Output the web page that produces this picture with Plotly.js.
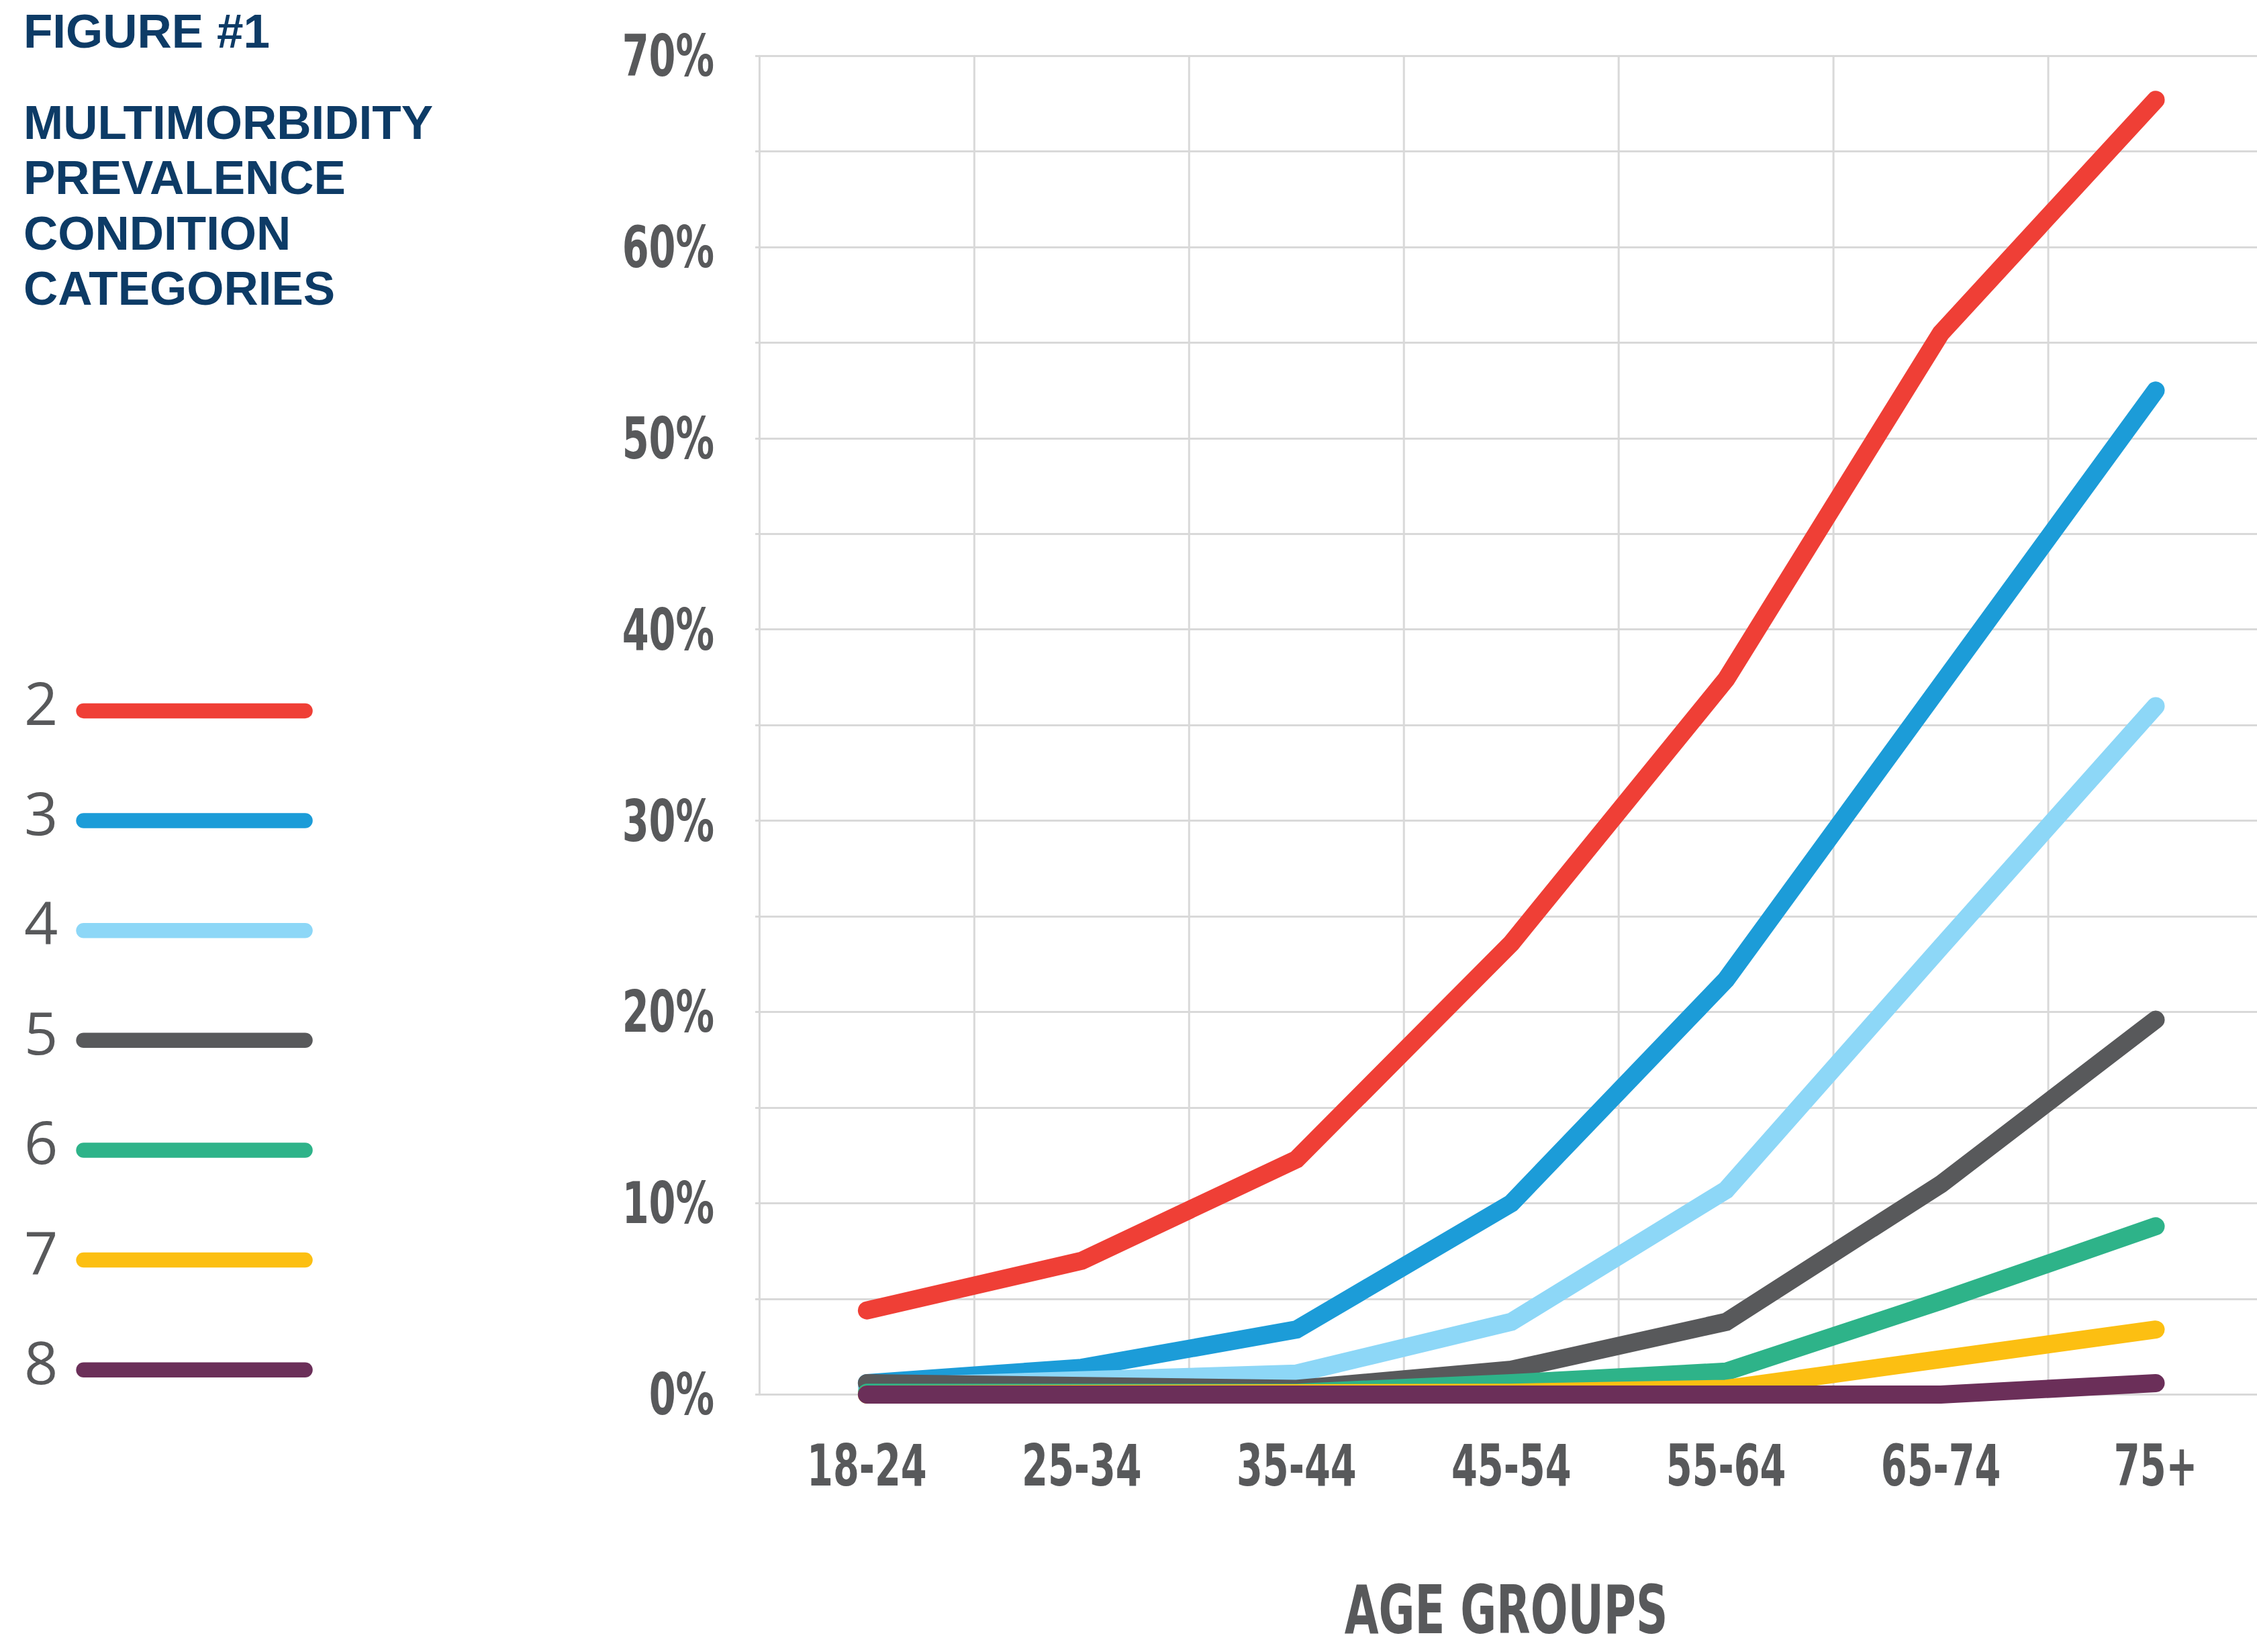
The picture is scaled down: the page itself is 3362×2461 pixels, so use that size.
<!DOCTYPE html>
<html>
<head>
<meta charset="utf-8">
<script src="https://cdn.plot.ly/plotly-3.0.1.min.js"></script>
<style>
  html, body { margin: 0; padding: 0; background: #ffffff; }
  #chart { width: 3362px; height: 2461px; }
  .scatterlayer .js-line { stroke-linecap: round !important; stroke-linejoin: miter !important; }
  .shapelayer path { stroke-linecap: round !important; }
</style>
</head>
<body>
<div id="chart"></div>
<script>
// ---------- data ----------
const categories = ['18-24', '25-34', '35-44', '45-54', '55-64', '65-74', '75+'];
const cond2 = [4.4, 7.0, 12.3, 23.6, 37.4, 55.5, 67.7];
const cond3 = [0.6, 1.4, 3.4, 10.0, 21.7, 37.0, 52.5];
const cond4 = [0.4, 0.8, 1.1, 3.8, 10.7, 23.4, 36.0];
const cond5 = [0.6, 0.5, 0.3, 1.3, 3.8, 11.0, 19.6];
const cond6 = [0.1, 0.1, 0.1, 0.6, 1.2, 4.9, 8.8];
const cond7 = [0.0, 0.0, 0.0, 0.1, 0.3, 1.8, 3.4];
const cond8 = [0.0, 0.0, 0.0, 0.0, 0.0, 0.0, 0.6];
const seriesNames = ['2', '3', '4', '5', '6', '7', '8'];
const seriesValues = [cond2, cond3, cond4, cond5, cond6, cond7, cond8];
const seriesColors = ['#EF3F36', '#1C9CD8', '#8DD7F7', '#58595B', '#2EB389', '#FCBF12', '#6B2F59'];
const titleLines = ['FIGURE #1', 'MULTIMORBIDITY', 'PREVALENCE', 'CONDITION', 'CATEGORIES'];
const xTitle = 'AGE GROUPS';

// ---------- geometry (pixels) ----------
const W = 3362, Hh = 2461;
const catPx = 320;                       // pixels per category
const xLo = -0.52;
const L = 1131 + (xLo + 0.5) * catPx;    // left margin so that -0.5 sits at x=1131
const PW = W - L;
const yMin = -1, yMax = 70.15;
const pxPerUnit = 28.5;
const PH = (yMax - yMin) * pxPerUnit;
const T = 83 - (yMax - 70) * pxPerUnit;  // keep 70% at y=83
const B = Hh - T - PH;
const px2x = px => (px - L) / PW;
const py2y = py => (T + PH - py) / PH;

const gray = '#58595B';
const navy = '#0D3B66';
const gridColor = '#D9D9D9';
const narrow = '"Liberation Sans Narrow", "DejaVu Sans Condensed", "Arial Narrow", sans-serif';

const traces = seriesValues.map((vals, i) => ({
  type: 'scatter',
  mode: 'lines',
  x: categories,
  y: vals,
  name: seriesNames[i],
  line: { color: seriesColors[i], width: 27 },
  showlegend: false,
  hoverinfo: 'skip'
}));

// vertical grid lines on the category boundaries, running only from 0% to 70%
const shapes = categories.map((_, i) => ({
  type: 'line', layer: 'between', xref: 'x', yref: 'y',
  x0: i - 0.5, x1: i - 0.5, y0: 0, y1: 70,
  line: { color: gridColor, width: 3 }
}));
const annotations = [];

// legend (numbers to the left of line swatches)
const legTop = 1059, legStep = 163.7;
seriesNames.forEach((nm, i) => {
  const cy = legTop + i * legStep;
  shapes.push({
    type: 'line', xref: 'paper', yref: 'paper', layer: 'above',
    x0: px2x(124), x1: px2x(454), y0: py2y(cy), y1: py2y(cy),
    line: { color: seriesColors[i], width: 22.5 }
  });
  annotations.push({
    xref: 'paper', yref: 'paper', x: px2x(60), y: py2y(cy - 13),
    xanchor: 'center', yanchor: 'middle', showarrow: false,
    text: nm,
    font: { family: '"Open Sans", "Noto Sans", sans-serif', size: 88, color: gray, weight: 400 }
  });
});

// title block
const titleCenters = [46, 182, 264, 347, 429];
titleLines.forEach((t, i) => {
  annotations.push({
    xref: 'paper', yref: 'paper', x: px2x(32), y: py2y(titleCenters[i]),
    xanchor: 'left', yanchor: 'middle', showarrow: false,
    text: t,
    font: { family: '"Liberation Sans", Arial, sans-serif', size: 71, color: navy, weight: 700 }
  });
});

const layout = {
  width: W, height: Hh,
  margin: { l: L, r: 0, t: T, b: B, pad: 0 },
  paper_bgcolor: '#ffffff', plot_bgcolor: '#ffffff',
  showlegend: false,
  xaxis: {
    type: 'category',
    range: [xLo, xLo + PW / catPx],
    showgrid: false,
    zeroline: false, showline: false, ticks: '',
    tickfont: { family: narrow, size: 85, color: gray, weight: 700 },
    ticklabelstandoff: 21,
    title: { text: xTitle, font: { family: narrow, size: 100, color: gray, weight: 700 } },
    fixedrange: true
  },
  yaxis: {
    range: [yMin, yMax],
    tick0: 0, dtick: 10, ticksuffix: '%',
    showgrid: true, gridcolor: gridColor, gridwidth: 3,
    minor: { dtick: 5, showgrid: true, gridcolor: gridColor, gridwidth: 3, ticks: '' },
    zeroline: false, showline: false, ticks: '',
    tickfont: { family: narrow, size: 85, color: gray, weight: 700 },
    ticklabelstandoff: Math.round(66 + (L - 1131)),
    fixedrange: true
  },
  shapes: shapes,
  annotations: annotations
};

// The reference uses a very condensed bold face; squeeze the condensed fallback horizontally,
// keeping each label's anchor point (centre or right edge) where Plotly put it.
function condense(sel, factor, keep) {
  document.querySelectorAll(sel).forEach(t => {
    const w = t.getComputedTextLength();
    if (!(w > 0)) return;
    const b0 = t.getBBox();
    const nw = w * factor;
    const startX = keep === 'end' ? (b0.x + b0.width) - nw : (b0.x + b0.width / 2) - nw / 2;
    t.setAttribute('text-anchor', 'start');
    t.style.textAnchor = 'start';
    t.setAttribute('x', startX.toFixed(2));
    t.setAttribute('textLength', nw.toFixed(1));
    t.setAttribute('lengthAdjust', 'spacingAndGlyphs');
  });
}

Plotly.newPlot('chart', traces, layout, { staticPlot: true, displayModeBar: false }).then(() => {
  condense('.xtick text', 0.73, 'middle');
  condense('.ytick text', 0.75, 'end');
  condense('.xtitle', 0.73, 'middle');
  // place the axis title low, as in the reference, while keeping it inside the picture
  const ttl = document.querySelector('.xtitle');
  if (ttl) {
    const b = ttl.getBBox();
    const wantTop = 2340;
    const y = parseFloat(ttl.getAttribute('y') || '0');
    ttl.setAttribute('y', (y + (wantTop - b.y)).toFixed(2));
  }
});
</script>
</body>
</html>
